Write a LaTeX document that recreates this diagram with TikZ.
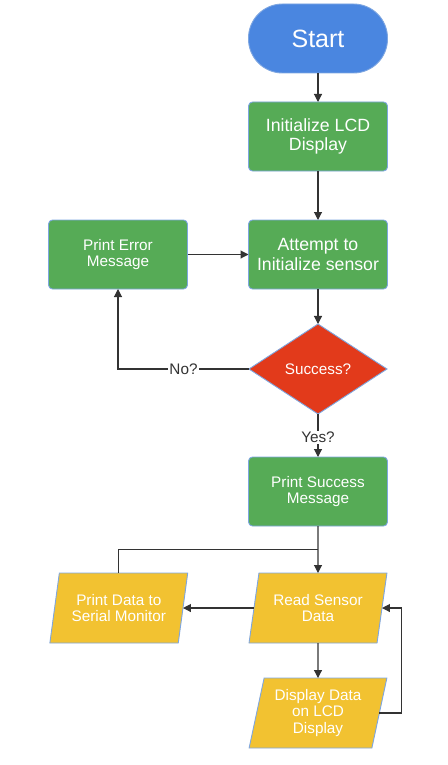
\documentclass[tikz,border=0pt]{standalone}
\usepackage{fontspec}
\setmainfont{Liberation Sans}
\usepackage{tikz}
\usetikzlibrary{arrows.meta,positioning,shapes.geometric,calc}

\definecolor{startblue}{HTML}{4A86E0}
\definecolor{boxgreen}{HTML}{56AB56}
\definecolor{decred}{HTML}{E23A1B}
\definecolor{ioyellow}{HTML}{F2C231}
\definecolor{edgeblue}{HTML}{7EA6E0}
\definecolor{linegray}{HTML}{333333}

\begin{document}
\begin{tikzpicture}[
  x=1pt, y=-1pt,
  node distance=29pt and 61pt,
  base/.style={draw=edgeblue, line width=0.9pt, text=white, align=center, inner sep=2pt, outer sep=0pt},
  big/.style={font=\fontsize{17.7}{19.3}\selectfont},
  small/.style={font=\fontsize{15.3}{16.2}\selectfont},
  box/.style={base, big, fill=boxgreen, rounded corners=4pt, minimum width=139pt, minimum height=69pt},
  io/.style={base, small, fill=ioyellow, trapezium, trapezium left angle=76, trapezium right angle=104,
    trapezium stretches=true, minimum width=138pt, minimum height=70pt},
  arr/.style={-{Triangle[length=8pt,width=8pt]}, line width=1.1pt, draw=linegray},
  lnk/.style={line width=1.1pt, draw=linegray},
  lbl/.style={small, text=linegray, fill=white, inner sep=1pt}
]
  \useasboundingbox (0,0) rectangle (447,765);

  % main column
  \node[base, fill=startblue, rounded corners=34pt, minimum width=139pt, minimum height=69pt,
    font=\fontsize{25}{30}\selectfont] (start) at (318,38.5) {Start};
  \node[box, below=of start] (lcd) {Initialize LCD\\Display};
  \node[box, below=49pt of lcd] (init) {Attempt to\\Initialize sensor};
  \node[base, small, fill=decred, diamond, aspect=1.53, inner sep=0pt,
    minimum width=138pt, minimum height=90pt, below=35pt of init] (ok) {Success?};
  \node[box, small, below=43pt of ok] (succ) {Print Success\\Message};
  \node[io, below=47pt of succ] (read) {Read Sensor\\Data};
  \node[io, below=35pt of read] (disp) {Display Data\\on LCD\\Display};

  % left column
  \node[box, small, left=of init] (err) {Print Error\\Message};
  \node[io, left=71pt of read] (serial) {Print Data to\\Serial Monitor};

  \coordinate (split) at ($(succ.south)!0.5!(read.north)$);

  \draw[arr] (start) -- (lcd);
  \draw[arr] (lcd) -- (init);
  \draw[arr] (init) -- (ok);
  \draw[arr] (err) -- (init);
  \draw[arr] (ok.west) -| node[lbl, pos=0.25] {No?} (err.south);
  \draw[arr] (ok.south) -- node[lbl, pos=0.55] {Yes?} (succ.north);
  \draw[arr] (succ) -- (read);
  \draw[lnk] (serial.north) |- (split);
  \draw[arr] (read.west) -- (serial.east);
  \draw[arr] (read) -- (disp);
  \draw[arr] (disp.east) -- ++(22,0) |- (read.east);
\end{tikzpicture}
\end{document}
